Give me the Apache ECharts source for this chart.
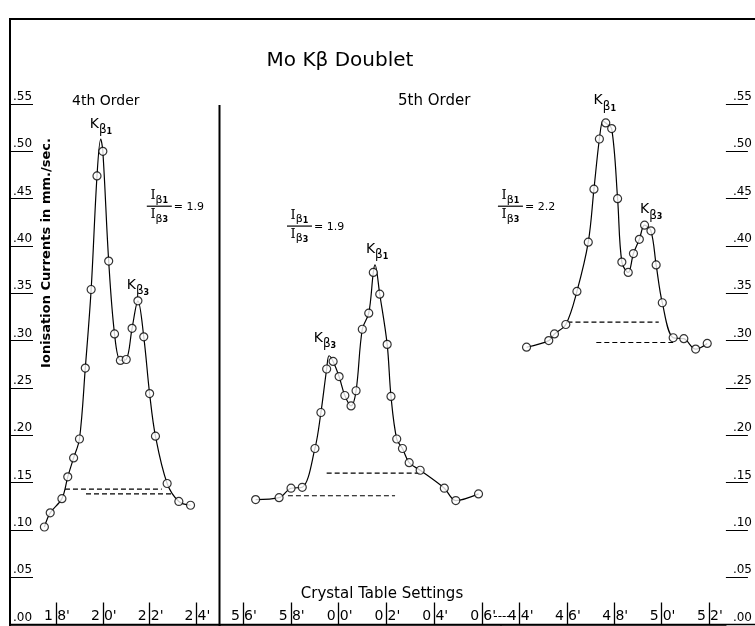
<!DOCTYPE html>
<html><head><meta charset="utf-8">
<script src="https://cdn.jsdelivr.net/npm/echarts@6/dist/echarts.min.js"></script>
<style>html,body{margin:0;padding:0;background:#fff}#c{width:755px;height:626px}</style>
</head><body><div id="c"></div>
<script>
// ---- tick labels ----
const yTicks = [0,0.05,0.10,0.15,0.20,0.25,0.30,0.35,0.40,0.45,0.50,0.55];
const o4Ticks = [18,20,22,24];
const o4TickLabels = ["18'","20'","22'","24'"];
const m5Ticks = [56,58,60,62,64,66];
const m5TickLabels = ["56'","58'","00'","02'","04'","06'"];
const r5Ticks = [44,46,48,50,52];
const r5TickLabels = ["44'","46'","48'","50'","52'"];

// ---- 4th order (left panel), crystal setting in minutes ----
const o4X = [17.5,17.75,18.25,18.5,18.75,19.0,19.25,19.5,19.75,20.0,20.25,20.5,20.75,21.0,21.25,21.5,21.75,22.0,22.25,22.75,23.25,23.75];
const o4Y = [0.103,0.118,0.133,0.156,0.176,0.196,0.271,0.354,0.474,0.500,0.384,0.307,0.279,0.280,0.313,0.342,0.304,0.244,0.199,0.149,0.130,0.126];
const o4PeakX = [19.91];
const o4PeakY = [0.513];
const o4DashUX = [18.38,22.52], o4DashUY = [0.143,0.143];
const o4DashLX = [19.28,22.95], o4DashLY = [0.138,0.138];

// ---- 5th order (middle panel) ----
const m5X = [56.53,57.51,58.01,58.48,59.01,59.26,59.50,59.77,60.02,60.26,60.52,60.73,60.99,61.26,61.45,61.72,62.03,62.19,62.43,62.67,62.95,63.41,64.42,64.90,65.85];
const m5Y = [0.132,0.134,0.144,0.145,0.186,0.224,0.270,0.278,0.262,0.242,0.231,0.247,0.312,0.329,0.372,0.349,0.296,0.241,0.196,0.186,0.171,0.163,0.144,0.131,0.138];
const m5PeakX = [59.60,61.52];
const m5PeakY = [0.284,0.380];
const m5DashUX = [59.50,63.41], m5DashUY = [0.160,0.160];
const m5DashLX = [57.88,62.36], m5DashLY = [0.136,0.136];

// ---- 5th order (right panel) ----
const r5X = [44.29,45.23,45.47,45.95,46.42,46.90,47.14,47.37,47.64,47.89,48.14,48.32,48.59,48.81,49.06,49.28,49.55,49.77,50.03,50.49,50.94,51.44,51.93];
const r5Y = [0.293,0.300,0.307,0.317,0.352,0.404,0.460,0.513,0.530,0.524,0.450,0.383,0.372,0.392,0.407,0.422,0.416,0.380,0.340,0.303,0.302,0.291,0.297];
const r5PeakX = [47.52];
const r5PeakY = [0.532];
const r5DashUX = [46.02,49.88], r5DashUY = [0.3195,0.3195];
const r5DashLX = [47.24,50.49], r5DashLY = [0.298,0.298];

// ---- annotations (data coordinates) ----
const kPanel = [0,0,1,1,2,2];
const kX = [19.92,21.50,59.43,61.61,47.60,49.56];
const kY = [0.526,0.356,0.300,0.394,0.551,0.436];
const kSub = ['1','3','3','1','1','3'];
const ratioPanel = [0,1,2];
const ratioX = [21.88,57.84,43.08];
const ratioY = [0.442,0.421,0.442];
const ratioText = ['1.9','1.9','2.2'];

const FONT = "'DejaVu Sans', sans-serif";
const chart = echarts.init(document.getElementById('c'), null, {renderer:'canvas'});

function zip(xs, ys){ return xs.map((x,i)=>[x, ys[i]]); }
function curve(xs, ys, px, py){ return zip(xs,ys).concat(zip(px,py)).sort((a,b)=>a[0]-b[0]); }

function xAxisFor(gi, min, max, ticks, labels){
  return {
    type:'value', gridIndex:gi, min:min, max:max,
    axisLine:{show:true, lineStyle:{color:'#000', width:1.6}},
    axisTick:{show:true, inside:true, length:22, customValues:ticks, lineStyle:{color:'#000', width:1.3}},
    axisLabel:{show:true, inside:true, margin:1, customValues:ticks,
      formatter:function(v){
        const i = ticks.findIndex(t=>Math.abs(t-v)<1e-6);
        const s = i>=0 ? labels[i] : '';
        return '{a|'+s.charAt(0)+'}{b|'+s.slice(1)+'}';
      },
      rich:{
        a:{fontSize:14, fontFamily:FONT, color:'#000', width:11, align:'right', padding:[0,2,0,0]},
        b:{fontSize:14, fontFamily:FONT, color:'#000', width:11, align:'left', padding:[0,0,0,2]}
      }
    },
    splitLine:{show:false}
  };
}
function yFmt(v){ return '.' + String(Math.round(v*100)).padStart(2,'0'); }

function panelSeries(gi, xs, ys, px, py, ux, uy, lx, ly){
  const base = {xAxisIndex:gi, yAxisIndex:gi, animation:false, silent:true};
  return [
    Object.assign({type:'line', data:curve(xs,ys,px,py), showSymbol:false, symbol:'none', smooth:0.35,
      lineStyle:{color:'#000', width:1.2}, z:2}, base),
    Object.assign({type:'line', data:zip(ux,uy), symbol:'none', lineStyle:{color:'#000', width:1.1, type:[5,3]}, z:1}, base),
    Object.assign({type:'line', data:zip(lx,ly), symbol:'none', lineStyle:{color:'#000', width:1.1, type:[5,3]}, z:1}, base),
    Object.assign({type:'scatter', data:zip(xs,ys), symbol:'circle', symbolSize:8,
      itemStyle:{color:'#fff', borderColor:'#000', borderWidth:1.2}, z:3}, base)
  ];
}

const option = {
  animation:false,
  backgroundColor:'#fff',
  grid:[
    {left:10, right:535, top:104, bottom:1.5},
    {left:220, right:254, top:104, bottom:1.5},
    {left:501, right:20, top:104, bottom:1.5}
  ],
  xAxis:[
    xAxisFor(0, 16.03, 25.01, o4Ticks, o4TickLabels),
    xAxisFor(1, 55.04, 66.79, m5Ticks, m5TickLabels),
    xAxisFor(2, 43.21, 52.72, r5Ticks, r5TickLabels)
  ],
  yAxis:[
    {type:'value', gridIndex:0, min:0, max:0.55, position:'left',
      axisLine:{show:false},
      axisTick:{show:true, inside:true, length:23, customValues:yTicks, lineStyle:{color:'#000', width:1}},
      axisLabel:{show:true, inside:true, margin:3, customValues:yTicks, align:'left', verticalAlign:'bottom',
        formatter:yFmt, fontSize:12, fontFamily:FONT, color:'#000', padding:[0,0,1,0]},
      splitLine:{show:false}},
    {type:'value', gridIndex:1, min:0, max:0.55, show:false},
    {type:'value', gridIndex:2, min:0, max:0.55, position:'right',
      axisLine:{show:false},
      axisTick:{show:true, inside:false, length:22, customValues:yTicks, lineStyle:{color:'#000', width:1}},
      axisLabel:{show:true, inside:false, margin:7, customValues:yTicks, align:'left', verticalAlign:'bottom',
        formatter:yFmt, fontSize:12, fontFamily:FONT, color:'#000', padding:[0,0,1,0]},
      splitLine:{show:false}}
  ],
  series:[].concat(
    panelSeries(0, o4X, o4Y, o4PeakX, o4PeakY, o4DashUX, o4DashUY, o4DashLX, o4DashLY),
    panelSeries(1, m5X, m5Y, m5PeakX, m5PeakY, m5DashUX, m5DashUY, m5DashLX, m5DashLY),
    panelSeries(2, r5X, r5Y, r5PeakX, r5PeakY, r5DashUX, r5DashUY, r5DashLX, r5DashLY)
  )
};
chart.setOption(option);

function txt(x, y, text, opts){
  return {type:'text', x:x, y:y, silent:true, z:10, rotation:(opts&&opts.rotation)||0,
    style:Object.assign({text:text, fill:'#000', fontFamily:FONT, fontSize:14,
      align:'center', verticalAlign:'middle', textAlign:'center', textVerticalAlign:'middle'}, opts&&opts.style)};
}
const kRich = {
  k:{fontSize:14, fontFamily:FONT, fill:'#000', color:'#000', lineHeight:19, verticalAlign:'top'},
  b:{fontSize:12, fontFamily:FONT, fill:'#000', color:'#000', lineHeight:16, verticalAlign:'bottom'},
  s:{fontSize:8, fontFamily:FONT, fontWeight:'bold', fill:'#000', color:'#000', lineHeight:9, verticalAlign:'bottom'}
};
const iRich = {
  k:{fontSize:13, fontFamily:"'DejaVu Serif', serif", fill:'#000', color:'#000', lineHeight:16, verticalAlign:'top'},
  b:{fontSize:11, fontFamily:FONT, fill:'#000', color:'#000', lineHeight:15, verticalAlign:'bottom'},
  s:{fontSize:8, fontFamily:FONT, fontWeight:'bold', fill:'#000', color:'#000', lineHeight:9, verticalAlign:'bottom'}
};

const g = [];
// frame
g.push({type:'line', silent:true, z:5, shape:{x1:9, y1:19, x2:755, y2:19}, style:{stroke:'#000', lineWidth:2}});
g.push({type:'line', silent:true, z:5, shape:{x1:10, y1:18, x2:10, y2:626}, style:{stroke:'#000', lineWidth:2}});
g.push({type:'line', silent:true, z:5, shape:{x1:9, y1:624.5, x2:755, y2:624.5}, style:{stroke:'#000', lineWidth:1.6}});
g.push({type:'line', silent:true, z:5, shape:{x1:219.5, y1:105, x2:219.5, y2:626}, style:{stroke:'#000', lineWidth:2}});
// titles
g.push(txt(340, 61, 'Mo K\u03b2 Doublet', {style:{fontSize:20}}));
g.push(txt(72, 101, '4th Order', {style:{fontSize:14, align:'left', textAlign:'left'}}));
g.push(txt(398, 101, '5th Order', {style:{fontSize:15, align:'left', textAlign:'left'}}));
g.push(txt(46.5, 253, 'Ionisation Currents in mm./sec.', {rotation:Math.PI/2, style:{fontSize:13, fontWeight:'bold'}}));
g.push(txt(382, 594, 'Crystal Table Settings', {style:{fontSize:15}}));
g.push(txt(502, 617, '----', {style:{fontSize:12}}));
// K-beta labels
for (let i=0;i<kX.length;i++){
  const p = chart.convertToPixel({gridIndex:kPanel[i]}, [kX[i], kY[i]]);
  g.push(txt(p[0], p[1], '{k|K}{b|\u03b2}{s|'+kSub[i]+'}', {style:{rich:kRich}}));
}
// intensity ratios
for (let i=0;i<ratioX.length;i++){
  const p = chart.convertToPixel({gridIndex:ratioPanel[i]}, [ratioX[i], ratioY[i]]);
  const bx = p[0], by = p[1];
  g.push({type:'line', silent:true, z:10, shape:{x1:bx, y1:by, x2:bx+25, y2:by}, style:{stroke:'#000', lineWidth:1.2}});
  g.push(txt(bx+12.5, by-9, '{k|I}{b|\u03b2}{s|1}', {style:{rich:iRich}}));
  g.push(txt(bx+12.5, by+10, '{k|I}{b|\u03b2}{s|3}', {style:{rich:iRich}}));
  g.push(txt(bx+27, by+1, '= '+ratioText[i], {style:{fontSize:11, align:'left', textAlign:'left'}}));
}
chart.setOption({graphic:g});
</script></body></html>
